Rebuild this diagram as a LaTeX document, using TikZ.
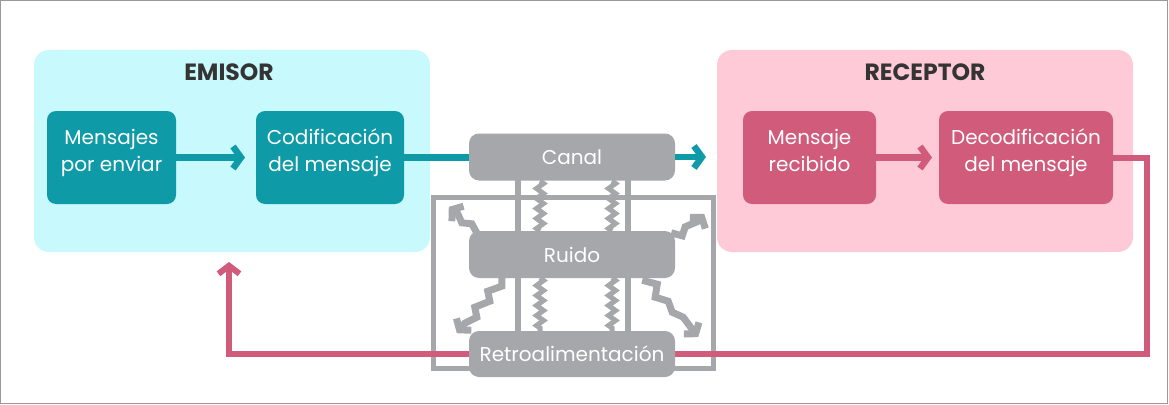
\documentclass[tikz,border=0pt]{standalone}
\usepackage{fontspec}
\setmainfont{Poppins}
\usepackage{tikz}
\usetikzlibrary{arrows.meta, positioning, decorations.pathmorphing}

\definecolor{panelcyan}{RGB}{200,249,253}
\definecolor{panelpink}{RGB}{255,202,216}
\definecolor{tealbox}{RGB}{14,154,167}
\definecolor{rosebox}{RGB}{208,91,122}
\definecolor{greybox}{RGB}{166,167,171}
\definecolor{titlegrey}{RGB}{52,52,52}

\begin{document}
\begin{tikzpicture}[
  x=1pt, y=-1pt,
  font=\fontsize{20}{27}\selectfont,
  panel/.style={rounded corners=15pt, minimum width=#1, minimum height=202pt},
  ttl/.style={font=\fontsize{23.5}{26}\selectfont\bfseries, text=titlegrey},
  tbox/.style={fill=tealbox, text=white, rounded corners=9pt, minimum height=93pt,
               minimum width=#1, align=center, inner sep=2pt, text depth=14pt},
  rbox/.style={fill=rosebox, text=white, rounded corners=9pt, minimum height=93pt,
               minimum width=#1, align=center, inner sep=2pt, text depth=14pt},
  gbox/.style={fill=greybox, text=white, rounded corners=10pt, minimum width=206pt,
               minimum height=47pt},
  tarr/.style={tealbox, line width=6.5pt, -{Straight Barb[length=8pt, width=22pt]}},
  rarr/.style={rosebox, line width=6.5pt, -{Straight Barb[length=8pt, width=22pt]}},
  fb/.style={rosebox, line width=6pt, -{Straight Barb[length=8pt, width=21pt]}},
  gline/.style={greybox, line width=6pt},
  wave/.style={greybox, line width=5pt, decorate,
               decoration={zigzag, segment length=10pt, amplitude=3.5pt}},
  bolt/.style={greybox, line width=7pt, line join=miter,
               -{Straight Barb[length=7pt, width=19pt]}}
]
\useasboundingbox (0,0) rectangle (1169,404);
\draw[black!40, line width=1pt] (0.5,0.5) rectangle (1167,403.5);

% panels
\node[panel=396pt, fill=panelcyan] (emi) at (232,151) {};
\node[panel=416pt, fill=panelpink] (rec) at (925,151) {};
\node[ttl] (emiT) at (229,72) {EMISOR};
\node[ttl] (recT) at (925,72) {RECEPTOR};

\node[tbox=129pt] (msg) at (111.5,157.5) {Mensajes\\por enviar};
\node[tbox=148pt] (cod) at (330,157.5) {Codificación\\del mensaje};
\node[rbox=133pt] (rcv) at (809.5,157.5) {Mensaje\\recibido};
\node[rbox=174pt] (dec) at (1026,157.5) {Decodificación\\del mensaje};

% channel block
\coordinate (v1) at (518,0);
\coordinate (v2) at (628,0);
\coordinate (w1) at (540,0);
\coordinate (w2) at (612,0);
\coordinate (canalC) at (572,157);
\coordinate (ruidoC) at (572,254.5);
\coordinate (retroC) at (572,354);

\draw[gline, line width=5pt] (433,197) rectangle (713,368);
\draw[gline] (canalC -| v1) -- (retroC -| v1);
\draw[gline] (canalC -| v2) -- (retroC -| v2);
\draw[wave] (w1 |- 0,181) -- (w1 |- 0,231);
\draw[wave] (w2 |- 0,181) -- (w2 |- 0,231);
\draw[wave] (w1 |- 0,278) -- (w1 |- 0,331);
\draw[wave] (w2 |- 0,278) -- (w2 |- 0,331);

% feedback
\coordinate (fbR) at (1147,354);
\coordinate (fbL) at (229,354);
\coordinate (fbTip) at (229,262);
\draw[fb] (dec.east) -- (dec.east -| fbR) -- (fbR) -- (fbL) -- (fbTip);

\node[gbox] (canal) at (canalC) {Canal};
\node[gbox] (ruido) at (ruidoC) {Ruido};
\node[gbox, minimum height=46pt] (retro) at (retroC) {Retroalimentación};

\draw[tarr] (msg) -- (245,157.5);
\draw[gline, tealbox, line width=6.5pt] (cod.east) -- (canal.west |- cod.east);
\coordinate (canOut) at (706,157);
\draw[tarr] (canal.east) -- (canOut);
\draw[rarr] (rcv) -- (932,157.5);

% noise bolts
\draw[bolt] (ruido.north west) ++(8,2) -- ++(-5,-9) -- ++(-10,-1) -- ++(-4,-9) -- ++(-9,-7);
\draw[bolt] (ruido.north east) ++(-4,2) -- ++(11,3) -- ++(3,-9) -- ++(14,-6) -- ++(5,-7);
\draw[bolt] (ruido.south west) ++(33,0) -- ++(0,8) -- ++(-14,5) -- ++(2,10) -- ++(-15,6)
  -- ++(2,10) -- ++(-12,6) -- ++(-8,10);
\draw[bolt] (ruido.south east) ++(-33,2) -- ++(15,4) -- ++(-2,13) -- ++(13,4) -- ++(4,11)
  -- ++(11,5) -- ++(15,20);
\end{tikzpicture}
\end{document}
